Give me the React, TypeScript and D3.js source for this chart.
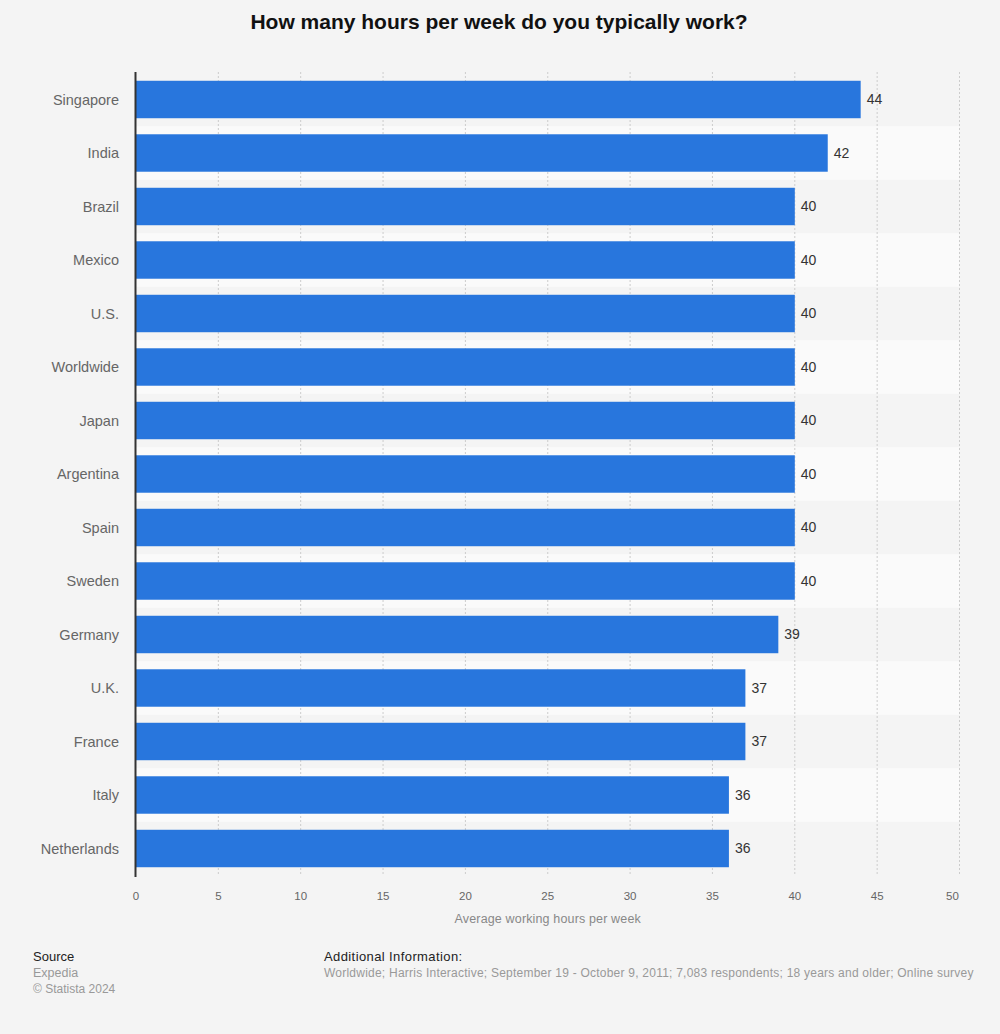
import React from "react";
import * as d3 from "d3";

const categories = ["Singapore","India","Brazil","Mexico","U.S.","Worldwide","Japan","Argentina","Spain","Sweden","Germany","U.K.","France","Italy","Netherlands"];
const values = [44,42,40,40,40,40,40,40,40,40,39,37,37,36,36];
const xTicks = [0,5,10,15,20,25,30,35,40,45,50];

const W = 1000, H = 1034;
const FONT = "'Liberation Sans', Arial, Helvetica, sans-serif";

export default function App() {
  const x = d3.scaleLinear().domain([0, 50]).range([136, 959.5]);
  const y = d3.scaleBand<string>().domain(categories).range([72.75, 875.25]).paddingInner(0.3).paddingOuter(0.15);
  const step = y.step();
  return (
    <svg width={W} height={H} style={{ position: "absolute", left: 0, top: 0, display: "block" }} fontFamily={FONT}>
      <rect x={0} y={0} width={W} height={H} fill="#f4f4f4" />
      <text x={499} y={29} textAnchor="middle" fontSize={21} fontWeight="bold" fill="#111">How many hours per week do you typically work?</text>
      {categories.map((c, i) => i % 2 === 1 ? (
        <rect key={"s" + c} x={x(0)} y={(y(c) as number) - step * 0.15} width={x(50) - x(0)} height={step} fill="#fafafa" />
      ) : null)}
      {xTicks.map(t => t === 0 ? null : (
        <line key={"g" + t} x1={x(t)} x2={x(t)} y1={72} y2={876} stroke="#cccccc" strokeWidth={1} strokeDasharray="2,2" />
      ))}
      {categories.map((c, i) => (
        <g key={c}>
          <rect x={x(0)} y={y(c)} width={x(values[i]) - x(0)} height={y.bandwidth()} fill="#2876dd" />
          <text x={x(values[i]) + 6} y={(y(c) as number) + y.bandwidth() / 2} dy="0.35em" fontSize={14} fill="#333">{values[i]}</text>
          <text x={119} y={(y(c) as number) + y.bandwidth() / 2} dy="0.35em" textAnchor="end" fontSize={14.5} fill="#666">{c}</text>
        </g>
      ))}
      <line x1={135.5} x2={135.5} y1={72} y2={877} stroke="#333" strokeWidth={2} />
      {xTicks.map((t, i) => (
        <text key={"t" + t} x={i === xTicks.length - 1 ? x(t) - 7 : x(t)} y={900} textAnchor="middle" fontSize={11.5} fill="#666">{t}</text>
      ))}
      <text x={(x(0) + x(50)) / 2} y={923} textAnchor="middle" fontSize={12.5} letterSpacing={0.15} fill="#888">Average working hours per week</text>
      <text x={33} y={961} fontSize={13} fill="#222">Source</text>
      <text x={33} y={977} fontSize={12.5} fill="#999">Expedia</text>
      <text x={33} y={993} fontSize={12} fill="#999">© Statista 2024</text>
      <text x={324} y={961} fontSize={13} letterSpacing={0.4} fill="#222">Additional Information:</text>
      <text x={324} y={977} fontSize={12} letterSpacing={0.23} fill="#999">Worldwide; Harris Interactive; September 19 - October 9, 2011; 7,083 respondents; 18 years and older; Online survey</text>
    </svg>
  );
}
